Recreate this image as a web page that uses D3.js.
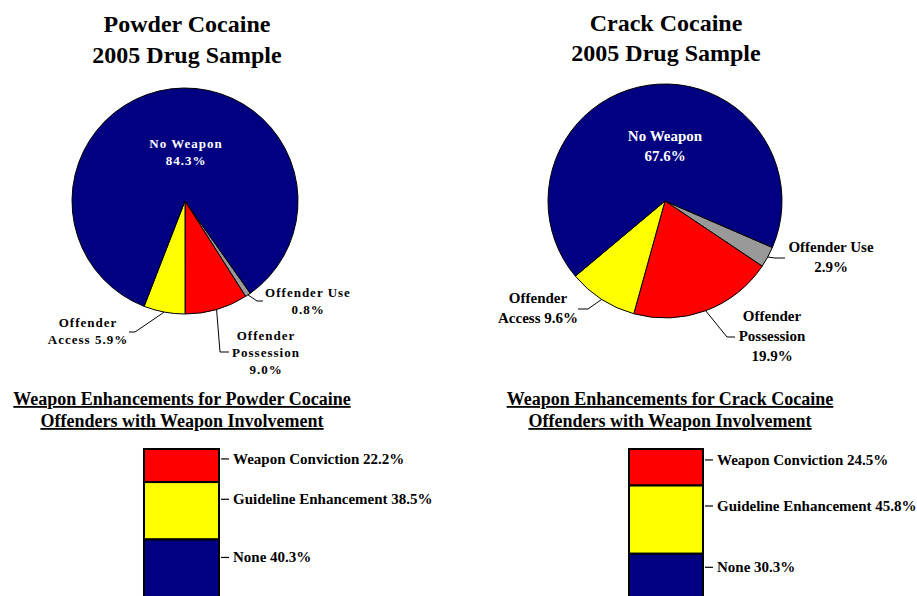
<!DOCTYPE html>
<html>
<head>
<meta charset="utf-8">
<script src="https://cdn.jsdelivr.net/npm/d3@7"></script>
<style>
  html, body { margin: 0; padding: 0; background: #fff; }
  svg { display: block; font-family: "Liberation Serif", "Times New Roman", serif; font-weight: bold; }
</style>
</head>
<body>
<svg id="chart" width="917" height="596"></svg>
<script>
// data
var pieCategories = ["Offender Use", "Offender Possession", "Offender Access", "No Weapon"];
var powderPie = [0.8, 9.0, 5.9, 84.3];
var crackPie = [2.9, 19.9, 9.6, 67.6];

var barCategories = ["Weapon Conviction", "Guideline Enhancement", "None"];
var powderBar = [22.2, 38.5, 40.3];
var crackBar = [24.5, 45.8, 30.3];

var pieColors = ["#999999", "#FF0000", "#FFFF00", "#000080"];
var barColors = ["#FF0000", "#FFFF00", "#000080"];

var svg = d3.select("#chart");

function title(x, lines, y0, dy, size, underline) {
  var t = svg.append("text")
    .attr("text-anchor", "middle")
    .attr("font-size", size)
    .style("text-decoration", underline ? "underline" : null);
  lines.forEach(function(s, i) {
    t.append("tspan").attr("x", x).attr("y", y0 + i * dy).text(s);
  });
}

// pie chart, labels placed by hand like in the original
function drawPie(opt) {
  var g = svg.append("g").attr("transform", "translate(" + opt.cx + "," + opt.cy + ")");
  var pie = d3.pie().sort(null).value(function(d) { return d; })
    .startAngle(opt.start * Math.PI / 180)
    .endAngle(opt.start * Math.PI / 180 + 2 * Math.PI);
  var arc = d3.arc().innerRadius(0).outerRadius(opt.r);
  var arcs = pie(opt.values);

  g.selectAll("path.slice").data(arcs).enter().append("path")
    .attr("class", "slice")
    .attr("d", arc)
    .attr("fill", function(d, i) { return pieColors[i]; })
    .attr("stroke", "#000")
    .attr("stroke-width", 1);

  arcs.forEach(function(d, i) {
    var lab = opt.labels[i];
    var a = (d.startAngle + d.endAngle) / 2;
    if (lab.leader) {
      var sx = Math.sin(a) * opt.r, sy = -Math.cos(a) * opt.r;
      var pts = [[sx, sy]].concat(lab.leader.map(function(p) { return [p[0] - opt.cx, p[1] - opt.cy]; }));
      g.append("path")
        .attr("d", d3.line()(pts))
        .attr("fill", "none")
        .attr("stroke", "#000")
        .attr("stroke-width", 1);
    }
    var t = svg.append("text")
      .attr("text-anchor", "middle")
      .attr("font-size", opt.fontSize)
      .attr("letter-spacing", opt.spacing)
      .attr("fill", i === 3 ? "#fff" : "#000");
    var val = opt.values[i].toFixed(1) + "%";
    var lines = lab.lines.map(function(s) { return s.replace("{v}", val); });
    lines.forEach(function(s, k) {
      t.append("tspan").attr("x", lab.x).attr("y", lab.y + k * opt.lineH).text(s);
    });
  });
}

// stacked single bar
function drawBar(opt) {
  var y = d3.scaleLinear().domain([0, 100]).range([449, 449 + 149]);
  var stack = d3.cumsum(opt.values);
  var g = svg.append("g");
  opt.values.forEach(function(v, i) {
    var y0 = y(stack[i] - v), y1 = y(stack[i]);
    g.append("rect")
      .attr("x", opt.x).attr("y", y0)
      .attr("width", opt.w).attr("height", y1 - y0)
      .attr("fill", barColors[i])
      .attr("stroke", "#000").attr("stroke-width", 2);
    var ty = y0 + (y1 - y0) * 0.3;
    g.append("line")
      .attr("x1", opt.x + opt.w + 2).attr("x2", opt.x + opt.w + 10)
      .attr("y1", ty).attr("y2", ty)
      .attr("stroke", "#000").attr("stroke-width", 1.2);
    g.append("text")
      .attr("x", opt.x + opt.w + 14).attr("y", ty + 5)
      .attr("font-size", 15)
      .text(barCategories[i] + " " + v.toFixed(1) + "%");
  });
}

title(187, ["Powder Cocaine", "2005 Drug Sample"], 32, 31, 24);
title(666, ["Crack Cocaine", "2005 Drug Sample"], 31, 30, 24);

drawPie({
  cx: 185, cy: 201, r: 113, start: 144.7, values: powderPie,
  fontSize: 13, spacing: 1, lineH: 17,
  labels: [
    { lines: ["Offender Use", "{v}"], x: 308, y: 297, leader: [[257, 301], [263, 301]] },
    { lines: ["Offender", "Possession", "{v}"], x: 266, y: 340, leader: [[220, 352], [229, 352]] },
    { lines: ["Offender", "Access {v}"], x: 88, y: 327, leader: [[135, 332], [129, 332]] },
    { lines: ["No Weapon", "{v}"], x: 186, y: 148 }
  ]
});

drawPie({
  cx: 665, cy: 201, r: 117, start: 113.4, values: crackPie,
  fontSize: 15, spacing: 0, lineH: 20,
  labels: [
    { lines: ["Offender Use", "{v}"], x: 831, y: 252, leader: [[775, 258], [785, 258]] },
    { lines: ["Offender", "Possession", "{v}"], x: 772, y: 321, leader: [[727, 337], [735, 337]] },
    { lines: ["Offender", "Access {v}"], x: 538, y: 303, leader: [[588, 309], [578, 309]] },
    { lines: ["No Weapon", "{v}"], x: 665, y: 141 }
  ]
});

title(182, ["Weapon Enhancements for Powder Cocaine", "Offenders with Weapon Involvement"], 405, 22, 18, true);
title(670, ["Weapon Enhancements for Crack Cocaine", "Offenders with Weapon Involvement"], 405, 22, 18, true);

drawBar({ x: 144, w: 75, values: powderBar });
drawBar({ x: 629, w: 74, values: crackBar });
</script>
</body>
</html>
